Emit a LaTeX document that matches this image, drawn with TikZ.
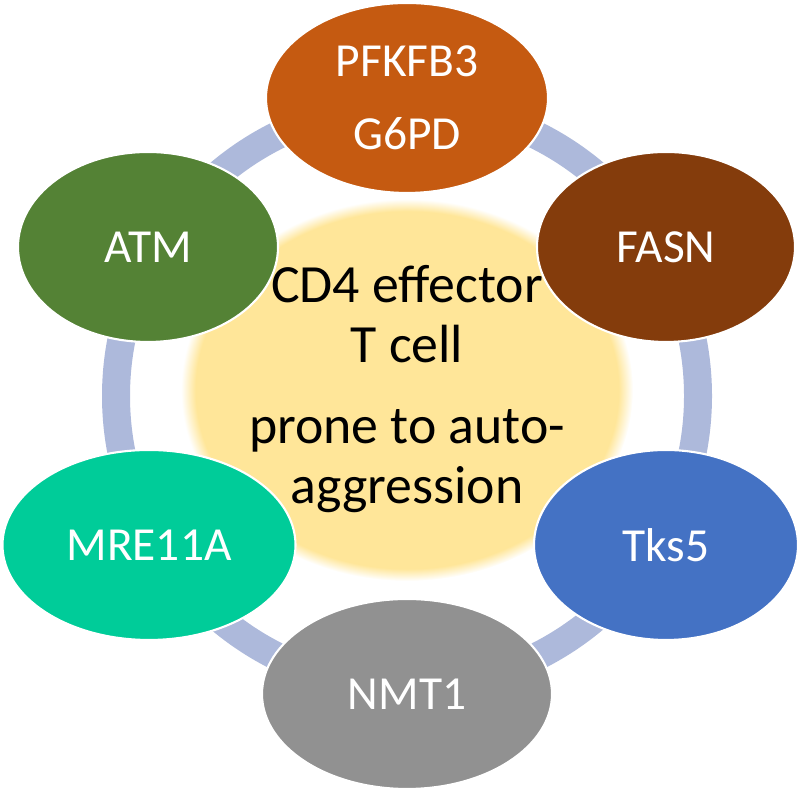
\documentclass[tikz,border=0pt]{standalone}
\usepackage{fontspec}
\setmainfont{Carlito}
\usepackage{tikz}
\usepackage{color}
\usetikzlibrary{shapes.geometric}

\definecolor{pfk}{RGB}{197,90,17}
\definecolor{fas}{RGB}{132,60,12}
\definecolor{tks}{RGB}{68,114,196}
\definecolor{nmt}{RGB}{145,145,145}
\definecolor{mre}{RGB}{0,204,153}
\definecolor{atm}{RGB}{84,130,53}
\definecolor{ringblue}{RGB}{173,185,219}
\definecolor{cellylw}{RGB}{255,230,153}

\pgfdeclareradialshading{cellglow}{\pgfpoint{0bp}{0bp}}{color(0bp)=(cellylw); color(23.4bp)=(cellylw); color(25bp)=(white); color(50bp)=(white)}

\begin{document}
\begin{tikzpicture}
  [x=1cm,y=1cm,
   gene/.style={ellipse,draw=white,line width=.6pt,text=white,inner sep=0pt,
     minimum height=1.9cm,font=\fontsize{13.5}{20.8}\selectfont}]
  \useasboundingbox (0,0) rectangle (8,7.92);
  \coordinate (c) at (4.07,3.96);
  \coordinate (y) at (4.07,4.02);

  \draw[ringblue,line width=0.28cm] (c) circle (2.91);
  \shade[shading=cellglow] (y) ellipse [x radius=2.26, y radius=1.91];

  \node[align=center,font=\fontsize{15.3}{17.1}\selectfont] (cell) at (4.07,4.03)
    {CD4 effector\\T cell\\[6pt]prone to auto-\\aggression};

  \node[gene,fill=pfk,minimum width=2.82cm,align=center] (p) at (4.07,6.94) {PFKFB3\\G6PD};
  \node[gene,fill=fas,minimum width=2.58cm] (f) at (6.66,5.45) {FASN};
  \node[gene,fill=tks,minimum width=2.64cm] (t) at (6.66,2.47) {Tks5};
  \node[gene,fill=nmt,minimum width=2.90cm] (n) at (4.07,0.98) {NMT1};
  \node[gene,fill=mre,minimum width=2.93cm] (m) at (1.49,2.47) {MRE11A};
  \node[gene,fill=atm,minimum width=2.60cm] (a) at (1.48,5.45) {ATM};

\end{tikzpicture}
\end{document}
